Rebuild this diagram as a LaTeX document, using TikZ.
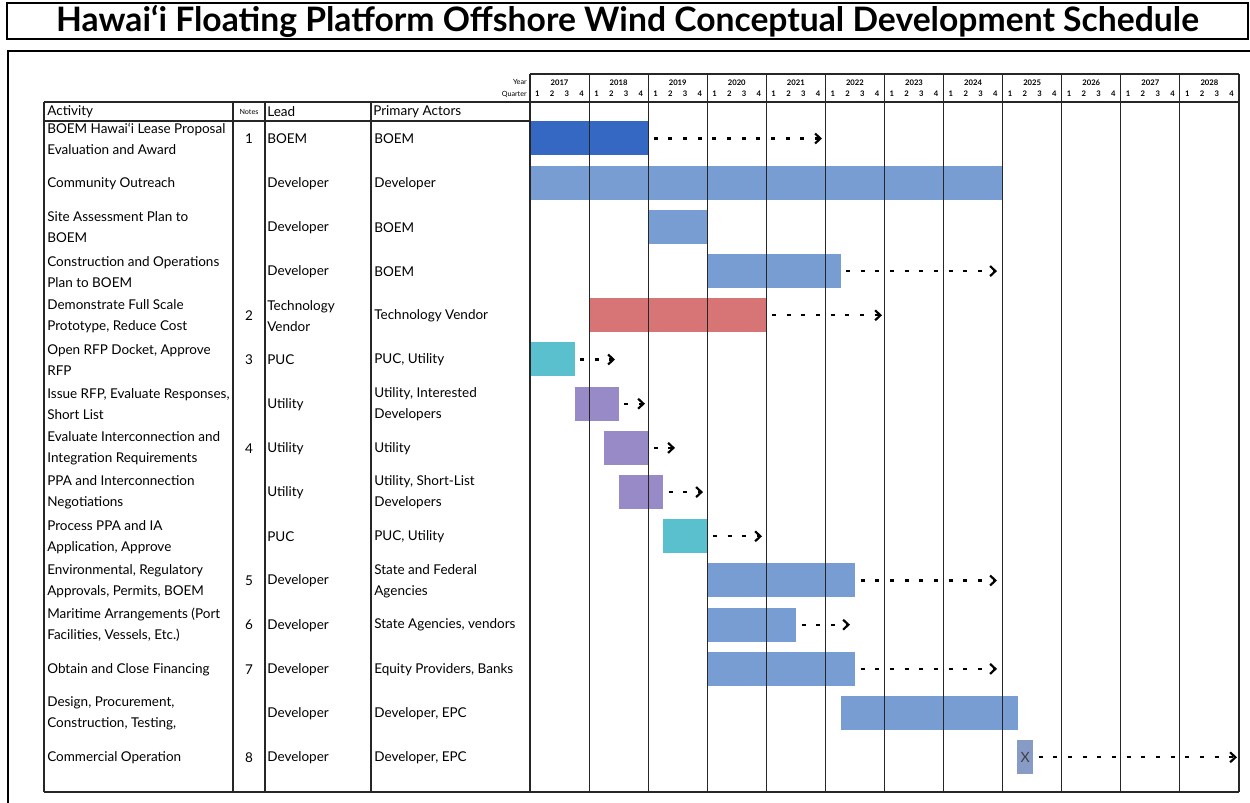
\documentclass[tikz,border=0pt]{standalone}
\usepackage{fontspec}
\setmainfont{Lato}
\usetikzlibrary{arrows.meta}

\definecolor{boemblue}{RGB}{52,104,194}
\definecolor{barblue}{RGB}{120,157,210}
\definecolor{barred}{RGB}{214,116,118}
\definecolor{barteal}{RGB}{90,192,206}
\definecolor{barpurple}{RGB}{152,138,198}
\definecolor{bargrey}{RGB}{136,154,198}

\newcommand\qx[1]{530+14.77*#1}
\newcommand\qw{8.862pt}

\tikzset{
  cell/.style={anchor=west, inner sep=0pt, align=left, font=\fontsize{8.1}{12.6}\selectfont},
  notenum/.style={inner sep=0pt, font=\fontsize{8.1}{9}\selectfont},
  tinyhdr/.style={inner sep=0pt, font=\fontsize{4.3}{5}\selectfont},
  yearlbl/.style={inner sep=0pt, font=\fontsize{4.6}{5}\bfseries},
  bar/.style={anchor=west, inner sep=0pt, minimum height=20.4pt},
  later/.style={line width=1.3pt, dash pattern=on 2.4pt off 6.4pt, shorten <=3pt,
    -{Straight Barb[length=3.2pt,width=6pt,line width=1.3pt]}},
  gridline/.style={line width=0.7pt, black!85},
}

\begin{document}
\begin{tikzpicture}[x=0.6pt, y=-0.6pt]
\useasboundingbox (0,0) rectangle (1250,803);

\draw[line width=1.2pt] (7,3) rectangle (1248,39);
\node[font=\fontsize{20.2}{22}\bfseries] (title) at (627.5,21)
  {Hawai‘i Floating Platform Offshore Wind Conceptual Development Schedule};
\draw[line width=1.6pt] (8,812) -- (8,51) -- (1254,51);

\node[bar, fill=boemblue,  minimum width=8*\qw]  (bar0)  at (\qx{0},138.5) {};
\node[bar, fill=barblue,   minimum width=32*\qw] (bar1)  at (\qx{0},182.7) {};
\node[bar, fill=barblue,   minimum width=4*\qw]  (bar2)  at (\qx{8},226.9) {};
\node[bar, fill=barblue,   minimum width=9*\qw]  (bar3)  at (\qx{12},271.1) {};
\node[bar, fill=barred,    minimum width=12*\qw] (bar4)  at (\qx{4},315.3) {};
\node[bar, fill=barteal,   minimum width=3*\qw]  (bar5)  at (\qx{0},359.5) {};
\node[bar, fill=barpurple, minimum width=3*\qw]  (bar6)  at (\qx{3},403.7) {};
\node[bar, fill=barpurple, minimum width=3*\qw]  (bar7)  at (\qx{5},447.9) {};
\node[bar, fill=barpurple, minimum width=3*\qw]  (bar8)  at (\qx{6},492.1) {};
\node[bar, fill=barteal,   minimum width=3*\qw]  (bar9)  at (\qx{9},536.3) {};
\node[bar, fill=barblue,   minimum width=10*\qw] (bar10) at (\qx{12},580.5) {};
\node[bar, fill=barblue,   minimum width=6*\qw]  (bar11) at (\qx{12},624.7) {};
\node[bar, fill=barblue,   minimum width=10*\qw] (bar12) at (\qx{12},668.9) {};
\node[bar, fill=barblue,   minimum width=12*\qw] (bar13) at (\qx{21},713.1) {};
\node[bar, fill=bargrey,   minimum width=9.6pt, text=black!75, font=\fontsize{8.5}{9}\selectfont]
  (bar14) at (1017,757.3) {X};

\draw[gridline] (44,102) -- (1239,102);
\draw[gridline] (44,121) -- (530,121);
\draw[gridline] (44,792) -- (1239,792);
\draw[gridline] (530,74) -- (1239,74);
\foreach \x in {44,233,265,371}
  \draw[gridline] (\x,102) -- (\x,792);
\foreach \k in {0,...,12}
  \draw[gridline] (530+59.08*\k,74) -- (530+59.08*\k,792);

\node[tinyhdr, anchor=east] (yearhdr) at (527,82) {Year};
\node[tinyhdr, anchor=east] (qtrhdr)  at (527,94) {Quarter};
\foreach \k in {0,...,11} {
  \pgfmathtruncatemacro\yr{2017+\k}
  \node[yearlbl] (yr\k) at (559.54+59.08*\k,83) {\yr};
  \foreach \q in {1,...,4}
    \node[yearlbl] (q\k\q) at (522.62+59.08*\k+14.77*\q,94) {\q};
}

\node[cell] (acthdr)   at (47,112)  {Activity};
\node[tinyhdr] (notehdr) at (249,112) {Notes};
\node[cell] (leadhdr)  at (267,112) {Lead};
\node[cell] (actorhdr) at (373,112) {Primary Actors};

\node[cell] (act0)  at (47,139)   {BOEM Hawai‘i Lease Proposal\\Evaluation and Award};
\node[cell] (act1)  at (47,183.2) {Community Outreach};
\node[cell] (act2)  at (47,227.4) {Site Assessment Plan to\\BOEM};
\node[cell] (act3)  at (47,271.6) {Construction and Operations\\Plan to BOEM};
\node[cell] (act4)  at (47,315.8) {Demonstrate Full Scale\\Prototype, Reduce Cost};
\node[cell] (act5)  at (47,360)   {Open RFP Docket, Approve\\RFP};
\node[cell] (act6)  at (47,404.2) {Issue RFP, Evaluate Responses,\\Short List};
\node[cell] (act7)  at (47,448.4) {Evaluate Interconnection and\\Integration Requirements};
\node[cell] (act8)  at (47,492.6) {PPA and Interconnection\\Negotiations};
\node[cell] (act9)  at (47,536.8) {Process PPA and IA\\Application, Approve};
\node[cell] (act10) at (47,581)   {Environmental, Regulatory\\Approvals, Permits, BOEM};
\node[cell] (act11) at (47,625.2) {Maritime Arrangements (Port\\Facilities, Vessels, Etc.)};
\node[cell] (act12) at (47,669.4) {Obtain and Close Financing};
\node[cell] (act13) at (47,713.6) {Design, Procurement,\\Construction, Testing,};
\node[cell] (act14) at (47,757.8) {Commercial Operation};

\node[notenum] (note0)  at (249,139)   {1};
\node[notenum] (note4)  at (249,315.8) {2};
\node[notenum] (note5)  at (249,360)   {3};
\node[notenum] (note7)  at (249,448.4) {4};
\node[notenum] (note10) at (249,581)   {5};
\node[notenum] (note11) at (249,625.2) {6};
\node[notenum] (note12) at (249,669.4) {7};
\node[notenum] (note14) at (249,757.8) {8};

\node[cell] (lead0)  at (267,139)   {BOEM};
\node[cell] (lead1)  at (267,183.2) {Developer};
\node[cell] (lead2)  at (267,227.4) {Developer};
\node[cell] (lead3)  at (267,271.6) {Developer};
\node[cell] (lead4)  at (267,315.8) {Technology\\Vendor};
\node[cell] (lead5)  at (267,360)   {PUC};
\node[cell] (lead6)  at (267,404.2) {Utility};
\node[cell] (lead7)  at (267,448.4) {Utility};
\node[cell] (lead8)  at (267,492.6) {Utility};
\node[cell] (lead9)  at (267,536.8) {PUC};
\node[cell] (lead10) at (267,581)   {Developer};
\node[cell] (lead11) at (267,625.2) {Developer};
\node[cell] (lead12) at (267,669.4) {Developer};
\node[cell] (lead13) at (267,713.6) {Developer};
\node[cell] (lead14) at (267,757.8) {Developer};

\node[cell] (actor0)  at (374,139)   {BOEM};
\node[cell] (actor1)  at (374,183.2) {Developer};
\node[cell] (actor2)  at (374,227.4) {BOEM};
\node[cell] (actor3)  at (374,271.6) {BOEM};
\node[cell] (actor4)  at (374,315.8) {Technology Vendor};
\node[cell] (actor5)  at (374,360)   {PUC, Utility};
\node[cell] (actor6)  at (374,404.2) {Utility, Interested\\Developers};
\node[cell] (actor7)  at (374,448.4) {Utility};
\node[cell] (actor8)  at (374,492.6) {Utility, Short-List\\Developers};
\node[cell] (actor9)  at (374,536.8) {PUC, Utility};
\node[cell] (actor10) at (374,581)   {State and Federal\\Agencies};
\node[cell] (actor11) at (374,625.2) {State Agencies, vendors};
\node[cell] (actor12) at (374,669.4) {Equity Providers, Banks};
\node[cell] (actor13) at (374,713.6) {Developer, EPC};
\node[cell] (actor14) at (374,757.8) {Developer, EPC};

\coordinate (tip0)  at (822,138.5);
\coordinate (tip3)  at (997,271.1);
\coordinate (tip4)  at (882,315.3);
\coordinate (tip5)  at (615,359.5);
\coordinate (tip6)  at (645,403.7);
\coordinate (tip7)  at (675,447.9);
\coordinate (tip8)  at (703,492.1);
\coordinate (tip9)  at (762,536.3);
\coordinate (tip10) at (997,580.5);
\coordinate (tip11) at (850,624.7);
\coordinate (tip12) at (997,668.9);
\coordinate (tip14) at (1237,757.3);
\foreach \i in {0,3,4,5,6,7,8,9,10,11,12,14}
  \draw[later] (bar\i) -- (tip\i);
\end{tikzpicture}
\end{document}
